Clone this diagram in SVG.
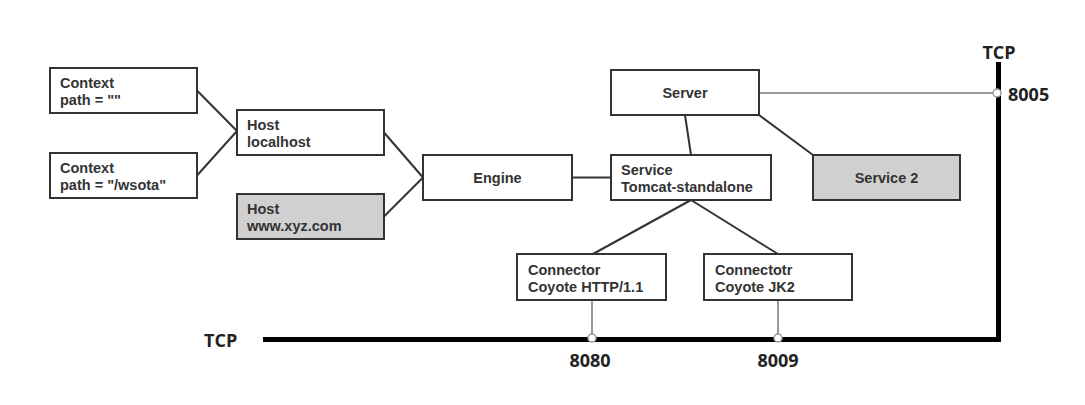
<svg xmlns="http://www.w3.org/2000/svg" width="1085" height="405" viewBox="0 0 1085 405">
<style>
.box{fill:#fff;stroke:#333;stroke-width:2}
.gray{fill:#d0d0d0}
.t{font-family:"Liberation Sans",Arial,sans-serif;font-weight:700;font-size:14.5px;fill:#333}
.c{text-anchor:middle}
.big{font-family:"Open Sans","Noto Sans","Liberation Sans",sans-serif;font-weight:700;font-size:18px;fill:#222}
.ln{stroke:#333;stroke-width:2;fill:none}
.gl{stroke:#999;stroke-width:2;fill:none}
.dot{fill:#fff;stroke:#999;stroke-width:1.5}
.bus{stroke:#000;stroke-width:5;fill:none}
</style>
<rect width="1085" height="405" fill="#fff"/>
<g id="connectors">
<line class="ln" x1="197" y1="90.5" x2="237" y2="131"/>
<line class="ln" x1="197" y1="175.5" x2="237" y2="131"/>
<line class="ln" x1="384" y1="132.5" x2="423" y2="177.5"/>
<line class="ln" x1="384" y1="216.5" x2="423" y2="177.5"/>
<line class="ln" x1="572" y1="177.5" x2="611" y2="177.5"/>
<line class="ln" x1="685" y1="115" x2="691" y2="155"/>
<line class="ln" x1="759" y1="115" x2="813" y2="155"/>
<line class="ln" x1="691" y1="200" x2="593" y2="254"/>
<line class="ln" x1="691" y1="200" x2="778" y2="254"/>
<line class="gl" x1="759" y1="93" x2="997" y2="93"/>
<line class="gl" x1="592" y1="300" x2="592" y2="338"/>
<line class="gl" x1="778" y1="300" x2="778" y2="338"/>
<path class="bus" d="M263 339.5 H998.5 V62"/>
<circle class="dot" cx="997" cy="93" r="4"/>
<circle class="dot" cx="592" cy="338" r="4"/>
<circle class="dot" cx="778" cy="338" r="4"/>
</g>
<g id="context1"><rect class="box" x="50" y="68" width="147" height="45"/><text class="t" x="60" y="88">Context</text><text class="t" x="60" y="105">path = ""</text></g>
<g id="context2"><rect class="box" x="50" y="153" width="147" height="45"/><text class="t" x="60" y="173">Context</text><text class="t" x="60" y="190">path = "/wsota"</text></g>
<g id="host-localhost"><rect class="box" x="237" y="110" width="147" height="45"/><text class="t" x="247" y="130">Host</text><text class="t" x="247" y="147">localhost</text></g>
<g id="host-xyz"><rect class="box gray" x="237" y="194" width="147" height="45"/><text class="t" x="247" y="214">Host</text><text class="t" x="247" y="231">www.xyz.com</text></g>
<g id="engine"><rect class="box" x="423" y="155" width="149" height="45"/><text class="t c" x="497.5" y="183">Engine</text></g>
<g id="service"><rect class="box" x="611" y="155" width="160" height="45"/><text class="t" x="621" y="175">Service</text><text class="t" x="621" y="192">Tomcat-standalone</text></g>
<g id="server"><rect class="box" x="611" y="70" width="148" height="45"/><text class="t c" x="685" y="98">Server</text></g>
<g id="service2"><rect class="box gray" x="813" y="155" width="147" height="45"/><text class="t c" x="886.5" y="183">Service 2</text></g>
<g id="connector1"><rect class="box" x="517" y="254" width="149" height="46"/><text class="t" x="528" y="275">Connector</text><text class="t" x="528" y="292">Coyote HTTP/1.1</text></g>
<g id="connector2"><rect class="box" x="704" y="254" width="148" height="46"/><text class="t" x="715" y="275">Connectotr</text><text class="t" x="715" y="292">Coyote JK2</text></g>
<g id="labels">
<text class="big" x="999" y="59" text-anchor="middle">TCP</text>
<text class="big" x="1008" y="101">8005</text>
<text class="big" x="204" y="347">TCP</text>
<text class="big c" x="590" y="367">8080</text>
<text class="big c" x="778" y="367">8009</text>
</g>
</svg>
